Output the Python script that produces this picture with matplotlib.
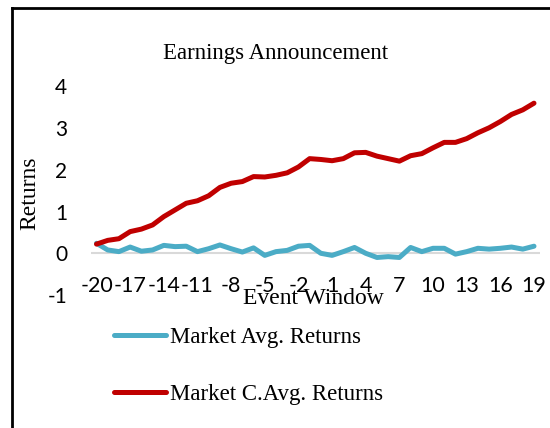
import matplotlib
matplotlib.use("Agg")
import matplotlib.pyplot as plt
from matplotlib.lines import Line2D

plt.rcParams['axes.unicode_minus'] = False

event_window = list(range(-20, 20))
market_avg = [0.24, 0.08, 0.04, 0.15, 0.05, 0.08, 0.19, 0.16, 0.17, 0.04,
              0.11, 0.20, 0.11, 0.03, 0.13, -0.05, 0.04, 0.07, 0.17, 0.19,
              0.00, -0.05, 0.04, 0.14, 0.00, -0.10, -0.08, -0.10, 0.14, 0.04,
              0.12, 0.12, -0.02, 0.04, 0.12, 0.10, 0.12, 0.15, 0.10, 0.17]
market_cavg = [0.22, 0.31, 0.35, 0.52, 0.58, 0.68, 0.88, 1.04, 1.20, 1.26,
               1.38, 1.58, 1.68, 1.72, 1.84, 1.83, 1.87, 1.93, 2.07, 2.27,
               2.25, 2.22, 2.27, 2.41, 2.42, 2.33, 2.27, 2.21, 2.34, 2.39,
               2.53, 2.66, 2.66, 2.75, 2.89, 3.01, 3.16, 3.33, 3.44, 3.60]
xtick_labels = list(range(-20, 20, 3))
ytick_labels = [-1, 0, 1, 2, 3, 4]

W, H = 550, 428
fig = plt.figure(figsize=(W / 100, H / 100), dpi=100)
ax = fig.add_axes([90.9 / W, 1 - 295 / H, (539.6 - 90.9) / W, (295 - 86.5) / H])

blue = '#4BACC6'
red = '#C00000'
serif = ['Liberation Serif', 'DejaVu Serif']
sans = ['Lato', 'DejaVu Sans']

ax.axhline(0, color='#d9d9d9', lw=1.5, zorder=1)
l1, = ax.plot(event_window, market_avg, color=blue, lw=3.6, solid_capstyle='round',
              solid_joinstyle='round', zorder=3, label='Market Avg. Returns')
l2, = ax.plot(event_window, market_cavg, color=red, lw=3.6, solid_capstyle='round',
              solid_joinstyle='round', zorder=3, label='Market C.Avg. Returns')

ax.set_xlim(-20.5, 19.5)
ax.set_ylim(-1, 4)
for s in ax.spines.values():
    s.set_visible(False)
ax.spines['bottom'].set_position(('data', 0))

ax.set_xticks(xtick_labels)
ax.set_xticklabels([str(v) for v in xtick_labels], family=sans, fontsize=15.5)
ax.set_yticks(ytick_labels)
ax.set_yticklabels([str(v) for v in ytick_labels], family=sans, fontsize=15)
ax.tick_params(axis='x', length=0, pad=16)
ax.tick_params(axis='y', length=0, pad=17)

fig.text(275.5 / W, 1 - 53 / H, 'Earnings Announcement', family=serif, fontsize=16.5,
         ha='center', va='center')
fig.text(30 / W, 1 - 193 / H, 'Returns', family=serif, fontsize=17, rotation=90,
         ha='center', va='center')
fig.text(313 / W, 1 - 299 / H, 'Event Window', family=serif, fontsize=17,
         ha='center', va='center')

fig.legend(handles=[l1, l2], loc='upper left', bbox_to_anchor=(93 / W, 1 - 306 / H),
           frameon=False, prop={'family': serif, 'size': 16.5}, handlelength=2.3,
           handletextpad=0.15, labelspacing=1.6)

# chart border (left and top visible)
fig.add_artist(Line2D([12 / W, 12 / W], [-0.05, 1 - 8 / H], transform=fig.transFigure,
                      color='black', lw=2))
fig.add_artist(Line2D([12 / W, 1.05], [1 - 8 / H, 1 - 8 / H], transform=fig.transFigure,
                      color='black', lw=2))

fig.savefig('out.png', dpi=100)
